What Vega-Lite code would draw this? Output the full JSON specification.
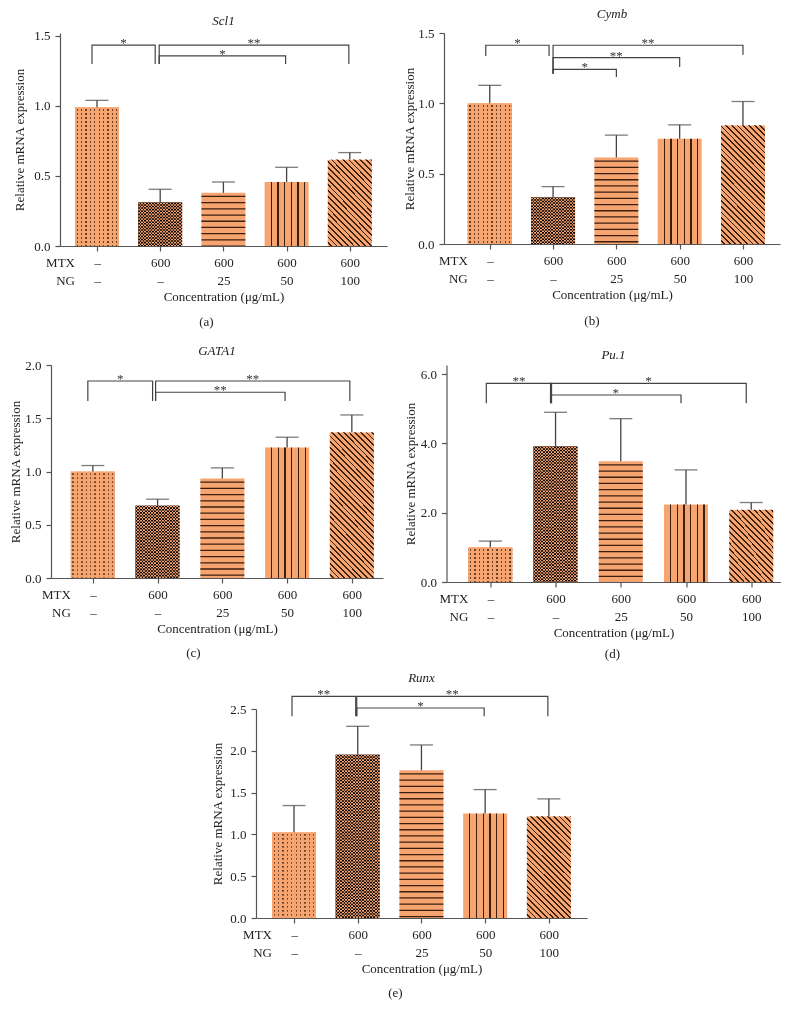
{
"$schema": "https://vega.github.io/schema/vega-lite/v6.json",
"padding": {"left": 7, "top": 8, "right": 5, "bottom": 5},
"background": "white",
"datasets": {
"a": [{"i":0,"v":0.99,"hi":1.04},{"i":1,"v":0.31,"hi":0.405},{"i":2,"v":0.38,"hi":0.457},{"i":3,"v":0.457,"hi":0.562},{"i":4,"v":0.617,"hi":0.667}],
"b": [{"i":0,"v":1.0,"hi":1.128},{"i":1,"v":0.33,"hi":0.408},{"i":2,"v":0.615,"hi":0.774},{"i":3,"v":0.748,"hi":0.847},{"i":4,"v":0.845,"hi":1.013}],
"c": [{"i":0,"v":1.0,"hi":1.056},{"i":1,"v":0.678,"hi":0.74},{"i":2,"v":0.934,"hi":1.034},{"i":3,"v":1.225,"hi":1.322},{"i":4,"v":1.369,"hi":1.531}],
"d": [{"i":0,"v":1.0,"hi":1.18},{"i":1,"v":3.906,"hi":4.896},{"i":2,"v":3.485,"hi":4.712},{"i":3,"v":2.235,"hi":3.234},{"i":4,"v":2.082,"hi":2.293}],
"e": [{"i":0,"v":1.027,"hi":1.345},{"i":1,"v":1.954,"hi":2.293},{"i":2,"v":1.767,"hi":2.07},{"i":3,"v":1.249,"hi":1.536},{"i":4,"v":1.218,"hi":1.425}],
"a_br": [{"b":"c0","i":0,"v":1.30,"o":1},{"b":"c0","i":0,"v":1.434,"o":2},{"b":"c0","i":1,"v":1.434,"o":3},{"b":"c0","i":1,"v":1.30,"o":4},
{"b":"b1","i":1,"v":1.30,"o":1},{"b":"b1","i":1,"v":1.434,"o":2},{"b":"b1","i":4,"v":1.434,"o":3},{"b":"b1","i":4,"v":1.30,"o":4},
{"b":"b2","i":1,"v":1.30,"o":1},{"b":"b2","i":1,"v":1.357,"o":2},{"b":"b2","i":3,"v":1.357,"o":3},{"b":"b2","i":3,"v":1.30,"o":4}],
"a_st": [{"b":"c0","i":0.5,"v":1.434,"t":"*"},{"b":"b1","i":2.5,"v":1.434,"t":"**"},{"b":"b2","i":2,"v":1.357,"t":"*"}],
"b_br": [{"b":"c0","i":0,"v":1.337,"o":1},{"b":"c0","i":0,"v":1.413,"o":2},{"b":"c0","i":1,"v":1.413,"o":3},{"b":"c0","i":1,"v":1.337,"o":4},
{"b":"b1","i":1,"v":1.21,"o":1},{"b":"b1","i":1,"v":1.413,"o":2},{"b":"b1","i":4,"v":1.413,"o":3},{"b":"b1","i":4,"v":1.346,"o":4},
{"b":"b2","i":1,"v":1.21,"o":1},{"b":"b2","i":1,"v":1.325,"o":2},{"b":"b2","i":3,"v":1.325,"o":3},{"b":"b2","i":3,"v":1.258,"o":4},
{"b":"b3","i":1,"v":1.21,"o":1},{"b":"b3","i":1,"v":1.241,"o":2},{"b":"b3","i":2,"v":1.241,"o":3},{"b":"b3","i":2,"v":1.187,"o":4}],
"b_st": [{"b":"c0","i":0.5,"v":1.413,"t":"*"},{"b":"b1","i":2.5,"v":1.413,"t":"**"},{"b":"b2","i":2,"v":1.325,"t":"**"},{"b":"b3","i":1.5,"v":1.241,"t":"*"}],
"c_br": [{"b":"c0","i":0,"v":1.662,"o":1},{"b":"c0","i":0,"v":1.85,"o":2},{"b":"c0","i":1,"v":1.85,"o":3},{"b":"c0","i":1,"v":1.662,"o":4},
{"b":"b1","i":1,"v":1.662,"o":1},{"b":"b1","i":1,"v":1.85,"o":2},{"b":"b1","i":4,"v":1.85,"o":3},{"b":"b1","i":4,"v":1.662,"o":4},
{"b":"b2","i":1,"v":1.662,"o":1},{"b":"b2","i":1,"v":1.744,"o":2},{"b":"b2","i":3,"v":1.744,"o":3},{"b":"b2","i":3,"v":1.662,"o":4}],
"c_st": [{"b":"c0","i":0.5,"v":1.85,"t":"*"},{"b":"b1","i":2.5,"v":1.85,"t":"**"},{"b":"b2","i":2,"v":1.744,"t":"**"}],
"d_br": [{"b":"c0","i":0,"v":5.156,"o":1},{"b":"c0","i":0,"v":5.73,"o":2},{"b":"c0","i":1,"v":5.73,"o":3},{"b":"c0","i":1,"v":5.156,"o":4},
{"b":"b1","i":1,"v":5.156,"o":1},{"b":"b1","i":1,"v":5.73,"o":2},{"b":"b1","i":4,"v":5.73,"o":3},{"b":"b1","i":4,"v":5.156,"o":4},
{"b":"b2","i":1,"v":5.156,"o":1},{"b":"b2","i":1,"v":5.394,"o":2},{"b":"b2","i":3,"v":5.394,"o":3},{"b":"b2","i":3,"v":5.156,"o":4}],
"d_st": [{"b":"c0","i":0.5,"v":5.73,"t":"**"},{"b":"b1","i":2.5,"v":5.73,"t":"*"},{"b":"b2","i":2,"v":5.394,"t":"*"}],
"e_br": [{"b":"c0","i":0,"v":2.413,"o":1},{"b":"c0","i":0,"v":2.651,"o":2},{"b":"c0","i":1,"v":2.651,"o":3},{"b":"c0","i":1,"v":2.413,"o":4},
{"b":"b1","i":1,"v":2.413,"o":1},{"b":"b1","i":1,"v":2.651,"o":2},{"b":"b1","i":4,"v":2.651,"o":3},{"b":"b1","i":4,"v":2.413,"o":4},
{"b":"b2","i":1,"v":2.413,"o":1},{"b":"b2","i":1,"v":2.512,"o":2},{"b":"b2","i":3,"v":2.512,"o":3},{"b":"b2","i":3,"v":2.413,"o":4}],
"e_st": [{"b":"c0","i":0.5,"v":2.651,"t":"**"},{"b":"b1","i":2.5,"v":2.651,"t":"**"},{"b":"b2","i":2,"v":2.512,"t":"*"}]
},
"spacing": 16,
"vconcat": [
{"spacing": 0, "hconcat": [
{"width": 5.5, "height": 10, "data": {"values": []}, "mark": {"type": "point", "opacity": 0}},
{"spacing": 16, "hconcat": [
{"title": {"text": "(a)", "orient": "bottom", "anchor": "middle", "offset": 12, "dx": 6},
 "vconcat": [{
 "width": 327, "height": 213,
 "title": {"text": "Scl1", "fontStyle": "italic", "anchor": "middle", "frame": "group", "offset": 2},
 "encoding": {
  "x": {"field": "i", "type": "quantitative", "scale": {"domain": [-0.506, 4.509], "nice": false, "zero": false},
   "axis": {"values": [0,1,2,3,4], "title": "Concentration (μg/mL)", "labelExpr": "datum.value == 0 ? ['MTX\u2002\u2002\u2002\u2013', 'NG\u2002\u2002\u2002\u2013'] : ['600', datum.value == 1 ? '\u2013' : datum.value == 2 ? '25' : datum.value == 3 ? '50' : '100']", "labelAlign": {"condition": {"test": "datum.value == 0", "value": "right"}, "value": "center"}, "labelOffset": {"condition": {"test": "datum.value == 0", "value": 3.5}, "value": 0}, "labelLineHeight": 18.5, "labelPadding": 5, "titlePadding": 3}},
  "y": {"field": "v", "type": "quantitative", "scale": {"domain": [0, 1.521], "nice": false},
   "axis": {"values": [0,0.5,1,1.5], "format": ".1f", "title": "Relative mRNA expression", "labelPadding": 5, "titlePadding": 7}}
 },
 "layer": [
  {"data":{"name":"a"},"mark":{"type":"bar","width":44,"orient":"vertical","fill":"#F7A570"}},
  {"data":{"name":"a"},"transform":[{"filter":"datum.i == 0"}],"mark":{"type":"rule","stroke":"#3D1F0E","strokeWidth":44,"strokeDash":[1.3,2.7],"strokeDashOffset":2},"encoding":{"y2":{"datum":0}}},
  {"data":{"name":"a"},"transform":[{"filter":"datum.i == 0"}],"mark":{"type":"bar","width":44,"orient":"vertical","style":"dotmask"}},
  {"data":{"name":"a"},"transform":[{"filter":"datum.i == 1"}],"mark":{"type":"bar","width":44,"orient":"vertical","style":"checker"}},
  {"data":{"name":"a"},"transform":[{"filter":"datum.i == 1"}],"mark":{"type":"rule","stroke":"#FDA770","strokeWidth":44,"strokeDash":[1.57,1.57],"blend":"difference"},"encoding":{"y2":{"datum":0}}},
  {"data":{"name":"a"},"transform":[{"filter":"datum.i == 2"}],"mark":{"type":"rule","stroke":"#3D1F0E","strokeWidth":44,"strokeDash":[1.3,4.9],"strokeDashOffset":3.2},"encoding":{"y2":{"datum":0}}},
  {"data":{"name":"a"},"transform":[{"filter":"datum.i == 3"}],"mark":{"type":"bar","width":44,"orient":"vertical","style":"vlines"}},
  {"data":{"name":"a"},"transform":[{"filter":"datum.i == 4"}],"mark":{"type":"bar","width":44,"orient":"vertical","style":"diag"},"encoding":{"y":{"datum":1.521,"type":"quantitative"},"y2":{"datum":0}}},
  {"data":{"name":"a"},"transform":[{"filter":"datum.i == 4"}],"mark":{"type":"bar","width":46,"orient":"vertical","fill":"white"},"encoding":{"y2":{"datum":1.521}}},
  {"data":{"name":"a"},"mark":{"type":"rule","color":"#444","strokeWidth":1.3},"encoding":{"y2":{"field":"hi"}}},
  {"data":{"name":"a"},"mark":{"type":"tick","orient":"horizontal","size":23,"thickness":1.3,"color":"#444"},"encoding":{"y":{"field":"hi","type":"quantitative"}}},
  {"data":{"name":"a_br"},"transform":[{"filter":"datum.b == 'c0'"}],"mark":{"type":"line","color":"#444","strokeWidth":1.2,"xOffset":-5},"encoding":{"detail":{"field":"b","type":"nominal"},"order":{"field":"o","type":"quantitative"}}},
  {"data":{"name":"a_br"},"transform":[{"filter":"datum.b != 'c0'"}],"mark":{"type":"line","color":"#444","strokeWidth":1.2,"xOffset":-1},"encoding":{"detail":{"field":"b","type":"nominal"},"order":{"field":"o","type":"quantitative"}}},
  {"data":{"name":"a_st"},"transform":[{"filter":"datum.b == 'c0'"}],"mark":{"type":"text","color":"#333","fontSize":13,"baseline":"alphabetic","dy":2,"xOffset":-5},"encoding":{"text":{"field":"t","type":"nominal"}}},
  {"data":{"name":"a_st"},"transform":[{"filter":"datum.b != 'c0'"}],"mark":{"type":"text","color":"#333","fontSize":13,"baseline":"alphabetic","dy":2,"xOffset":-1},"encoding":{"text":{"field":"t","type":"nominal"}}}
 ]}]},
{"title": {"text": "(b)", "orient": "bottom", "anchor": "middle", "offset": 13},
 "vconcat": [{
 "width": 336, "height": 211,
 "title": {"text": "Cymb", "fontStyle": "italic", "anchor": "middle", "frame": "group", "offset": 6},
 "encoding": {
  "x": {"field": "i", "type": "quantitative", "scale": {"domain": [-0.644, 4.506], "nice": false, "zero": false},
   "axis": {"values": [0,1,2,3,4], "title": "Concentration (μg/mL)", "labelExpr": "datum.value == 0 ? ['MTX\u2002\u2002\u2002\u2013', 'NG\u2002\u2002\u2002\u2013'] : ['600', datum.value == 1 ? '\u2013' : datum.value == 2 ? '25' : datum.value == 3 ? '50' : '100']", "labelAlign": {"condition": {"test": "datum.value == 0", "value": "right"}, "value": "center"}, "labelOffset": {"condition": {"test": "datum.value == 0", "value": 3.5}, "value": 0}, "labelLineHeight": 18.5, "labelPadding": 5, "titlePadding": 3}},
  "y": {"field": "v", "type": "quantitative", "scale": {"domain": [0, 1.5], "nice": false},
   "axis": {"values": [0,0.5,1,1.5], "format": ".1f", "title": "Relative mRNA expression", "labelPadding": 5, "titlePadding": 1}}
 },
 "layer": [
  {"data":{"name":"b"},"mark":{"type":"bar","width":44,"orient":"vertical","fill":"#F7A570"}},
  {"data":{"name":"b"},"transform":[{"filter":"datum.i == 0"}],"mark":{"type":"rule","stroke":"#3D1F0E","strokeWidth":44,"strokeDash":[1.3,2.7],"strokeDashOffset":2},"encoding":{"y2":{"datum":0}}},
  {"data":{"name":"b"},"transform":[{"filter":"datum.i == 0"}],"mark":{"type":"bar","width":44,"orient":"vertical","style":"dotmask"}},
  {"data":{"name":"b"},"transform":[{"filter":"datum.i == 1"}],"mark":{"type":"bar","width":44,"orient":"vertical","style":"checker"}},
  {"data":{"name":"b"},"transform":[{"filter":"datum.i == 1"}],"mark":{"type":"rule","stroke":"#FDA770","strokeWidth":44,"strokeDash":[1.57,1.57],"blend":"difference"},"encoding":{"y2":{"datum":0}}},
  {"data":{"name":"b"},"transform":[{"filter":"datum.i == 2"}],"mark":{"type":"rule","stroke":"#3D1F0E","strokeWidth":44,"strokeDash":[1.3,4.9],"strokeDashOffset":3.2},"encoding":{"y2":{"datum":0}}},
  {"data":{"name":"b"},"transform":[{"filter":"datum.i == 3"}],"mark":{"type":"bar","width":44,"orient":"vertical","style":"vlines"}},
  {"data":{"name":"b"},"transform":[{"filter":"datum.i == 4"}],"mark":{"type":"bar","width":44,"orient":"vertical","style":"diag"},"encoding":{"y":{"datum":1.5,"type":"quantitative"},"y2":{"datum":0}}},
  {"data":{"name":"b"},"transform":[{"filter":"datum.i == 4"}],"mark":{"type":"bar","width":46,"orient":"vertical","fill":"white"},"encoding":{"y2":{"datum":1.5}}},
  {"data":{"name":"b"},"mark":{"type":"rule","color":"#444","strokeWidth":1.3},"encoding":{"y2":{"field":"hi"}}},
  {"data":{"name":"b"},"mark":{"type":"tick","orient":"horizontal","size":23,"thickness":1.3,"color":"#444"},"encoding":{"y":{"field":"hi","type":"quantitative"}}},
  {"data":{"name":"b_br"},"transform":[{"filter":"datum.b == 'c0'"}],"mark":{"type":"line","color":"#444","strokeWidth":1.2,"xOffset":-4},"encoding":{"detail":{"field":"b","type":"nominal"},"order":{"field":"o","type":"quantitative"}}},
  {"data":{"name":"b_br"},"transform":[{"filter":"datum.b != 'c0'"}],"mark":{"type":"line","color":"#444","strokeWidth":1.2,"xOffset":0},"encoding":{"detail":{"field":"b","type":"nominal"},"order":{"field":"o","type":"quantitative"}}},
  {"data":{"name":"b_st"},"transform":[{"filter":"datum.b == 'c0'"}],"mark":{"type":"text","color":"#333","fontSize":13,"baseline":"alphabetic","dy":2,"xOffset":-4},"encoding":{"text":{"field":"t","type":"nominal"}}},
  {"data":{"name":"b_st"},"transform":[{"filter":"datum.b != 'c0'"}],"mark":{"type":"text","color":"#333","fontSize":13,"baseline":"alphabetic","dy":2,"xOffset":0},"encoding":{"text":{"field":"t","type":"nominal"}}}
 ]}]}
]}]},
{"spacing": 11, "vconcat": [
{"spacing": 0, "hconcat": [
{"width": 1.5, "height": 10, "data": {"values": []}, "mark": {"type": "point", "opacity": 0}},
{"spacing": 20.5, "hconcat": [
{"title": {"text": "(c)", "orient": "bottom", "anchor": "middle", "offset": 11, "dx": -3},
 "vconcat": [{
 "width": 332, "height": 213,
 "title": {"text": "GATA1", "fontStyle": "italic", "anchor": "middle", "frame": "group", "offset": 1},
 "encoding": {
  "x": {"field": "i", "type": "quantitative", "scale": {"domain": [-0.569, 4.404], "nice": false, "zero": false},
   "axis": {"values": [0,1,2,3,4], "title": "Concentration (μg/mL)", "labelExpr": "datum.value == 0 ? ['MTX\u2002\u2002\u2002\u2013', 'NG\u2002\u2002\u2002\u2013'] : ['600', datum.value == 1 ? '\u2013' : datum.value == 2 ? '25' : datum.value == 3 ? '50' : '100']", "labelAlign": {"condition": {"test": "datum.value == 0", "value": "right"}, "value": "center"}, "labelOffset": {"condition": {"test": "datum.value == 0", "value": 3.5}, "value": 0}, "labelLineHeight": 18.5, "labelPadding": 5, "titlePadding": 3}},
  "y": {"field": "v", "type": "quantitative", "scale": {"domain": [0, 2], "nice": false},
   "axis": {"values": [0,0.5,1,1.5,2], "format": ".1f", "title": "Relative mRNA expression", "labelPadding": 5, "titlePadding": 2}}
 },
 "layer": [
  {"data":{"name":"c"},"mark":{"type":"bar","width":44,"orient":"vertical","fill":"#F7A570"}},
  {"data":{"name":"c"},"transform":[{"filter":"datum.i == 0"}],"mark":{"type":"rule","stroke":"#3D1F0E","strokeWidth":44,"strokeDash":[1.3,2.7],"strokeDashOffset":2},"encoding":{"y2":{"datum":0}}},
  {"data":{"name":"c"},"transform":[{"filter":"datum.i == 0"}],"mark":{"type":"bar","width":44,"orient":"vertical","style":"dotmask"}},
  {"data":{"name":"c"},"transform":[{"filter":"datum.i == 1"}],"mark":{"type":"bar","width":44,"orient":"vertical","style":"checker"}},
  {"data":{"name":"c"},"transform":[{"filter":"datum.i == 1"}],"mark":{"type":"rule","stroke":"#FDA770","strokeWidth":44,"strokeDash":[1.57,1.57],"blend":"difference"},"encoding":{"y2":{"datum":0}}},
  {"data":{"name":"c"},"transform":[{"filter":"datum.i == 2"}],"mark":{"type":"rule","stroke":"#3D1F0E","strokeWidth":44,"strokeDash":[1.3,4.9],"strokeDashOffset":3.2},"encoding":{"y2":{"datum":0}}},
  {"data":{"name":"c"},"transform":[{"filter":"datum.i == 3"}],"mark":{"type":"bar","width":44,"orient":"vertical","style":"vlines"}},
  {"data":{"name":"c"},"transform":[{"filter":"datum.i == 4"}],"mark":{"type":"bar","width":44,"orient":"vertical","style":"diag"},"encoding":{"y":{"datum":2,"type":"quantitative"},"y2":{"datum":0}}},
  {"data":{"name":"c"},"transform":[{"filter":"datum.i == 4"}],"mark":{"type":"bar","width":46,"orient":"vertical","fill":"white"},"encoding":{"y2":{"datum":2}}},
  {"data":{"name":"c"},"mark":{"type":"rule","color":"#444","strokeWidth":1.3},"encoding":{"y2":{"field":"hi"}}},
  {"data":{"name":"c"},"mark":{"type":"tick","orient":"horizontal","size":23,"thickness":1.3,"color":"#444"},"encoding":{"y":{"field":"hi","type":"quantitative"}}},
  {"data":{"name":"c_br"},"transform":[{"filter":"datum.b == 'c0'"}],"mark":{"type":"line","color":"#444","strokeWidth":1.2,"xOffset":-5},"encoding":{"detail":{"field":"b","type":"nominal"},"order":{"field":"o","type":"quantitative"}}},
  {"data":{"name":"c_br"},"transform":[{"filter":"datum.b != 'c0'"}],"mark":{"type":"line","color":"#444","strokeWidth":1.2,"xOffset":-2},"encoding":{"detail":{"field":"b","type":"nominal"},"order":{"field":"o","type":"quantitative"}}},
  {"data":{"name":"c_st"},"transform":[{"filter":"datum.b == 'c0'"}],"mark":{"type":"text","color":"#333","fontSize":13,"baseline":"alphabetic","dy":2,"xOffset":-5},"encoding":{"text":{"field":"t","type":"nominal"}}},
  {"data":{"name":"c_st"},"transform":[{"filter":"datum.b != 'c0'"}],"mark":{"type":"text","color":"#333","fontSize":13,"baseline":"alphabetic","dy":2,"xOffset":-2},"encoding":{"text":{"field":"t","type":"nominal"}}}
 ]}]},
{"title": {"text": "(d)", "orient": "bottom", "anchor": "middle", "offset": 8, "dx": 20},
 "vconcat": [{
 "width": 334, "height": 217,
 "title": {"text": "Pu.1", "fontStyle": "italic", "anchor": "middle", "frame": "group", "offset": 3.5},
 "encoding": {
  "x": {"field": "i", "type": "quantitative", "scale": {"domain": [-0.595, 4.372], "nice": false, "zero": false},
   "axis": {"values": [0,1,2,3,4], "title": "Concentration (μg/mL)", "labelExpr": "datum.value == 0 ? ['MTX\u2002\u2002\u2002\u2013', 'NG\u2002\u2002\u2002\u2013'] : ['600', datum.value == 1 ? '\u2013' : datum.value == 2 ? '25' : datum.value == 3 ? '50' : '100']", "labelAlign": {"condition": {"test": "datum.value == 0", "value": "right"}, "value": "center"}, "labelOffset": {"condition": {"test": "datum.value == 0", "value": 3.5}, "value": 0}, "labelLineHeight": 18.5, "labelPadding": 5, "titlePadding": 3}},
  "y": {"field": "v", "type": "quantitative", "scale": {"domain": [0, 6.26], "nice": false},
   "axis": {"values": [0,2,4,6], "format": ".1f", "title": "Relative mRNA expression", "labelPadding": 5, "titlePadding": 3}}
 },
 "layer": [
  {"data":{"name":"d"},"mark":{"type":"bar","width":44,"orient":"vertical","fill":"#F7A570"}},
  {"data":{"name":"d"},"transform":[{"filter":"datum.i == 0"}],"mark":{"type":"rule","stroke":"#3D1F0E","strokeWidth":44,"strokeDash":[1.3,2.7],"strokeDashOffset":2},"encoding":{"y2":{"datum":0}}},
  {"data":{"name":"d"},"transform":[{"filter":"datum.i == 0"}],"mark":{"type":"bar","width":44,"orient":"vertical","style":"dotmask"}},
  {"data":{"name":"d"},"transform":[{"filter":"datum.i == 1"}],"mark":{"type":"bar","width":44,"orient":"vertical","style":"checker"}},
  {"data":{"name":"d"},"transform":[{"filter":"datum.i == 1"}],"mark":{"type":"rule","stroke":"#FDA770","strokeWidth":44,"strokeDash":[1.57,1.57],"blend":"difference"},"encoding":{"y2":{"datum":0}}},
  {"data":{"name":"d"},"transform":[{"filter":"datum.i == 2"}],"mark":{"type":"rule","stroke":"#3D1F0E","strokeWidth":44,"strokeDash":[1.3,4.9],"strokeDashOffset":3.2},"encoding":{"y2":{"datum":0}}},
  {"data":{"name":"d"},"transform":[{"filter":"datum.i == 3"}],"mark":{"type":"bar","width":44,"orient":"vertical","style":"vlines"}},
  {"data":{"name":"d"},"transform":[{"filter":"datum.i == 4"}],"mark":{"type":"bar","width":44,"orient":"vertical","style":"diag"},"encoding":{"y":{"datum":6.26,"type":"quantitative"},"y2":{"datum":0}}},
  {"data":{"name":"d"},"transform":[{"filter":"datum.i == 4"}],"mark":{"type":"bar","width":46,"orient":"vertical","fill":"white"},"encoding":{"y2":{"datum":6.26}}},
  {"data":{"name":"d"},"mark":{"type":"rule","color":"#444","strokeWidth":1.3},"encoding":{"y2":{"field":"hi"}}},
  {"data":{"name":"d"},"mark":{"type":"tick","orient":"horizontal","size":23,"thickness":1.3,"color":"#444"},"encoding":{"y":{"field":"hi","type":"quantitative"}}},
  {"data":{"name":"d_br"},"transform":[{"filter":"datum.b == 'c0'"}],"mark":{"type":"line","color":"#444","strokeWidth":1.2,"xOffset":-4},"encoding":{"detail":{"field":"b","type":"nominal"},"order":{"field":"o","type":"quantitative"}}},
  {"data":{"name":"d_br"},"transform":[{"filter":"datum.b != 'c0'"}],"mark":{"type":"line","color":"#444","strokeWidth":1.2,"xOffset":-5},"encoding":{"detail":{"field":"b","type":"nominal"},"order":{"field":"o","type":"quantitative"}}},
  {"data":{"name":"d_st"},"transform":[{"filter":"datum.b == 'c0'"}],"mark":{"type":"text","color":"#333","fontSize":13,"baseline":"alphabetic","dy":2,"xOffset":-4},"encoding":{"text":{"field":"t","type":"nominal"}}},
  {"data":{"name":"d_st"},"transform":[{"filter":"datum.b != 'c0'"}],"mark":{"type":"text","color":"#333","fontSize":13,"baseline":"alphabetic","dy":2,"xOffset":-5},"encoding":{"text":{"field":"t","type":"nominal"}}}
 ]}]}
]}]},
{"spacing": 0, "hconcat": [
{"width": 203.5, "height": 10, "data": {"values": []}, "mark": {"type": "point", "opacity": 0}},
{"title": {"text": "(e)", "orient": "bottom", "anchor": "middle", "offset": 11, "dx": -4},
 "vconcat": [{
 "width": 331, "height": 209,
 "title": {"text": "Runx", "fontStyle": "italic", "anchor": "middle", "frame": "group", "offset": 3},
 "encoding": {
  "x": {"field": "i", "type": "quantitative", "scale": {"domain": [-0.518, 4.52], "nice": false, "zero": false},
   "axis": {"values": [0,1,2,3,4], "title": "Concentration (μg/mL)", "labelExpr": "datum.value == 0 ? ['MTX\u2002\u2002\u2002\u2013', 'NG\u2002\u2002\u2002\u2013'] : ['600', datum.value == 1 ? '\u2013' : datum.value == 2 ? '25' : datum.value == 3 ? '50' : '100']", "labelAlign": {"condition": {"test": "datum.value == 0", "value": "right"}, "value": "center"}, "labelOffset": {"condition": {"test": "datum.value == 0", "value": 3.5}, "value": 0}, "labelLineHeight": 18.5, "labelPadding": 5, "titlePadding": 3}},
  "y": {"field": "v", "type": "quantitative", "scale": {"domain": [0, 2.5], "nice": false},
   "axis": {"values": [0,0.5,1,1.5,2,2.5], "format": ".1f", "title": "Relative mRNA expression", "labelPadding": 5, "titlePadding": 5}}
 },
 "layer": [
  {"data":{"name":"e"},"mark":{"type":"bar","width":44,"orient":"vertical","fill":"#F7A570"}},
  {"data":{"name":"e"},"transform":[{"filter":"datum.i == 0"}],"mark":{"type":"rule","stroke":"#3D1F0E","strokeWidth":44,"strokeDash":[1.3,2.7],"strokeDashOffset":2},"encoding":{"y2":{"datum":0}}},
  {"data":{"name":"e"},"transform":[{"filter":"datum.i == 0"}],"mark":{"type":"bar","width":44,"orient":"vertical","style":"dotmask"}},
  {"data":{"name":"e"},"transform":[{"filter":"datum.i == 1"}],"mark":{"type":"bar","width":44,"orient":"vertical","style":"checker"}},
  {"data":{"name":"e"},"transform":[{"filter":"datum.i == 1"}],"mark":{"type":"rule","stroke":"#FDA770","strokeWidth":44,"strokeDash":[1.57,1.57],"blend":"difference"},"encoding":{"y2":{"datum":0}}},
  {"data":{"name":"e"},"transform":[{"filter":"datum.i == 2"}],"mark":{"type":"rule","stroke":"#3D1F0E","strokeWidth":44,"strokeDash":[1.3,4.9],"strokeDashOffset":3.2},"encoding":{"y2":{"datum":0}}},
  {"data":{"name":"e"},"transform":[{"filter":"datum.i == 3"}],"mark":{"type":"bar","width":44,"orient":"vertical","style":"vlines"}},
  {"data":{"name":"e"},"transform":[{"filter":"datum.i == 4"}],"mark":{"type":"bar","width":44,"orient":"vertical","style":"diag"},"encoding":{"y":{"datum":2.5,"type":"quantitative"},"y2":{"datum":0}}},
  {"data":{"name":"e"},"transform":[{"filter":"datum.i == 4"}],"mark":{"type":"bar","width":46,"orient":"vertical","fill":"white"},"encoding":{"y2":{"datum":2.5}}},
  {"data":{"name":"e"},"mark":{"type":"rule","color":"#444","strokeWidth":1.3},"encoding":{"y2":{"field":"hi"}}},
  {"data":{"name":"e"},"mark":{"type":"tick","orient":"horizontal","size":23,"thickness":1.3,"color":"#444"},"encoding":{"y":{"field":"hi","type":"quantitative"}}},
  {"data":{"name":"e_br"},"transform":[{"filter":"datum.b == 'c0'"}],"mark":{"type":"line","color":"#444","strokeWidth":1.2,"xOffset":-2},"encoding":{"detail":{"field":"b","type":"nominal"},"order":{"field":"o","type":"quantitative"}}},
  {"data":{"name":"e_br"},"transform":[{"filter":"datum.b != 'c0'"}],"mark":{"type":"line","color":"#444","strokeWidth":1.2,"xOffset":-1},"encoding":{"detail":{"field":"b","type":"nominal"},"order":{"field":"o","type":"quantitative"}}},
  {"data":{"name":"e_st"},"transform":[{"filter":"datum.b == 'c0'"}],"mark":{"type":"text","color":"#333","fontSize":13,"baseline":"alphabetic","dy":2,"xOffset":-2},"encoding":{"text":{"field":"t","type":"nominal"}}},
  {"data":{"name":"e_st"},"transform":[{"filter":"datum.b != 'c0'"}],"mark":{"type":"text","color":"#333","fontSize":13,"baseline":"alphabetic","dy":2,"xOffset":-1},"encoding":{"text":{"field":"t","type":"nominal"}}}
 ]}]}
]}
]}
],
"config": {
 "font": "Liberation Serif",
 "view": {"stroke": null},
 "axis": {"grid": false, "domainColor": "#555", "domainWidth": 1.2, "tickColor": "#555", "tickWidth": 1.2, "tickSize": 5, "labelFontSize": 13, "labelColor": "#222", "titleFontSize": 13, "titleColor": "#222", "titleFontWeight": "normal", "labelFlush": false, "labelOverlap": false},
 "title": {"fontSize": 13, "fontWeight": "normal", "color": "#222"},
 "style": {
  "dotmask": {"color": {"gradient": "linear", "x1": 0, "y1": 0, "x2": 1, "y2": 0, "stops": [
   {"offset":0.035,"color":"#F7A570"},{"offset":0.035,"color":"#0000"},{"offset":0.065,"color":"#0000"},{"offset":0.065,"color":"#F7A570"},
   {"offset":0.135,"color":"#F7A570"},{"offset":0.135,"color":"#0000"},{"offset":0.165,"color":"#0000"},{"offset":0.165,"color":"#F7A570"},
   {"offset":0.235,"color":"#F7A570"},{"offset":0.235,"color":"#0000"},{"offset":0.265,"color":"#0000"},{"offset":0.265,"color":"#F7A570"},
   {"offset":0.335,"color":"#F7A570"},{"offset":0.335,"color":"#0000"},{"offset":0.365,"color":"#0000"},{"offset":0.365,"color":"#F7A570"},
   {"offset":0.435,"color":"#F7A570"},{"offset":0.435,"color":"#0000"},{"offset":0.465,"color":"#0000"},{"offset":0.465,"color":"#F7A570"},
   {"offset":0.535,"color":"#F7A570"},{"offset":0.535,"color":"#0000"},{"offset":0.565,"color":"#0000"},{"offset":0.565,"color":"#F7A570"},
   {"offset":0.635,"color":"#F7A570"},{"offset":0.635,"color":"#0000"},{"offset":0.665,"color":"#0000"},{"offset":0.665,"color":"#F7A570"},
   {"offset":0.735,"color":"#F7A570"},{"offset":0.735,"color":"#0000"},{"offset":0.765,"color":"#0000"},{"offset":0.765,"color":"#F7A570"},
   {"offset":0.835,"color":"#F7A570"},{"offset":0.835,"color":"#0000"},{"offset":0.865,"color":"#0000"},{"offset":0.865,"color":"#F7A570"},
   {"offset":0.935,"color":"#F7A570"},{"offset":0.935,"color":"#0000"},{"offset":0.965,"color":"#0000"},{"offset":0.965,"color":"#F7A570"}]}},
  "checker": {"color": {"gradient": "linear", "x1": 0, "y1": 0, "x2": 1, "y2": 0, "stops": [
   {"offset":0.0357,"color":"#060200"},{"offset":0.0357,"color":"#F7A570"},{"offset":0.0714,"color":"#F7A570"},{"offset":0.0714,"color":"#060200"},
   {"offset":0.1071,"color":"#060200"},{"offset":0.1071,"color":"#F7A570"},{"offset":0.1429,"color":"#F7A570"},{"offset":0.1429,"color":"#060200"},
   {"offset":0.1786,"color":"#060200"},{"offset":0.1786,"color":"#F7A570"},{"offset":0.2143,"color":"#F7A570"},{"offset":0.2143,"color":"#060200"},
   {"offset":0.25,"color":"#060200"},{"offset":0.25,"color":"#F7A570"},{"offset":0.2857,"color":"#F7A570"},{"offset":0.2857,"color":"#060200"},
   {"offset":0.3214,"color":"#060200"},{"offset":0.3214,"color":"#F7A570"},{"offset":0.3571,"color":"#F7A570"},{"offset":0.3571,"color":"#060200"},
   {"offset":0.3929,"color":"#060200"},{"offset":0.3929,"color":"#F7A570"},{"offset":0.4286,"color":"#F7A570"},{"offset":0.4286,"color":"#060200"},
   {"offset":0.4643,"color":"#060200"},{"offset":0.4643,"color":"#F7A570"},{"offset":0.5,"color":"#F7A570"},{"offset":0.5,"color":"#060200"},
   {"offset":0.5357,"color":"#060200"},{"offset":0.5357,"color":"#F7A570"},{"offset":0.5714,"color":"#F7A570"},{"offset":0.5714,"color":"#060200"},
   {"offset":0.6071,"color":"#060200"},{"offset":0.6071,"color":"#F7A570"},{"offset":0.6429,"color":"#F7A570"},{"offset":0.6429,"color":"#060200"},
   {"offset":0.6786,"color":"#060200"},{"offset":0.6786,"color":"#F7A570"},{"offset":0.7143,"color":"#F7A570"},{"offset":0.7143,"color":"#060200"},
   {"offset":0.75,"color":"#060200"},{"offset":0.75,"color":"#F7A570"},{"offset":0.7857,"color":"#F7A570"},{"offset":0.7857,"color":"#060200"},
   {"offset":0.8214,"color":"#060200"},{"offset":0.8214,"color":"#F7A570"},{"offset":0.8571,"color":"#F7A570"},{"offset":0.8571,"color":"#060200"},
   {"offset":0.8929,"color":"#060200"},{"offset":0.8929,"color":"#F7A570"},{"offset":0.9286,"color":"#F7A570"},{"offset":0.9286,"color":"#060200"},
   {"offset":0.9643,"color":"#060200"},{"offset":0.9643,"color":"#F7A570"}]}},
  "vlines": {"color": {"gradient": "linear", "x1": 0, "y1": 0, "x2": 1, "y2": 0, "stops": [
   {"offset":0.136,"color":"#0000"},{"offset":0.136,"color":"#3D1F0E"},{"offset":0.166,"color":"#3D1F0E"},{"offset":0.166,"color":"#0000"},
   {"offset":0.288,"color":"#0000"},{"offset":0.288,"color":"#3D1F0E"},{"offset":0.318,"color":"#3D1F0E"},{"offset":0.318,"color":"#0000"},
   {"offset":0.44,"color":"#0000"},{"offset":0.44,"color":"#3D1F0E"},{"offset":0.47,"color":"#3D1F0E"},{"offset":0.47,"color":"#0000"},
   {"offset":0.592,"color":"#0000"},{"offset":0.592,"color":"#3D1F0E"},{"offset":0.622,"color":"#3D1F0E"},{"offset":0.622,"color":"#0000"},
   {"offset":0.744,"color":"#0000"},{"offset":0.744,"color":"#3D1F0E"},{"offset":0.774,"color":"#3D1F0E"},{"offset":0.774,"color":"#0000"},
   {"offset":0.896,"color":"#0000"},{"offset":0.896,"color":"#3D1F0E"},{"offset":0.926,"color":"#3D1F0E"},{"offset":0.926,"color":"#0000"}]}},
  "diag": {"color": {"gradient": "linear", "x1": 0, "y1": 1, "x2": 0.24277, "y2": -0.15867, "stops": [
   {"offset":0.0100,"color":"#0000"},{"offset":0.0100,"color":"#3D1F0E"},{"offset":0.0171,"color":"#3D1F0E"},{"offset":0.0171,"color":"#0000"},
   {"offset":0.0324,"color":"#0000"},{"offset":0.0324,"color":"#3D1F0E"},{"offset":0.0395,"color":"#3D1F0E"},{"offset":0.0395,"color":"#0000"},
   {"offset":0.0549,"color":"#0000"},{"offset":0.0549,"color":"#3D1F0E"},{"offset":0.0620,"color":"#3D1F0E"},{"offset":0.0620,"color":"#0000"},
   {"offset":0.0773,"color":"#0000"},{"offset":0.0773,"color":"#3D1F0E"},{"offset":0.0844,"color":"#3D1F0E"},{"offset":0.0844,"color":"#0000"},
   {"offset":0.0998,"color":"#0000"},{"offset":0.0998,"color":"#3D1F0E"},{"offset":0.1069,"color":"#3D1F0E"},{"offset":0.1069,"color":"#0000"},
   {"offset":0.1222,"color":"#0000"},{"offset":0.1222,"color":"#3D1F0E"},{"offset":0.1293,"color":"#3D1F0E"},{"offset":0.1293,"color":"#0000"},
   {"offset":0.1446,"color":"#0000"},{"offset":0.1446,"color":"#3D1F0E"},{"offset":0.1517,"color":"#3D1F0E"},{"offset":0.1517,"color":"#0000"},
   {"offset":0.1671,"color":"#0000"},{"offset":0.1671,"color":"#3D1F0E"},{"offset":0.1742,"color":"#3D1F0E"},{"offset":0.1742,"color":"#0000"},
   {"offset":0.1895,"color":"#0000"},{"offset":0.1895,"color":"#3D1F0E"},{"offset":0.1966,"color":"#3D1F0E"},{"offset":0.1966,"color":"#0000"},
   {"offset":0.2120,"color":"#0000"},{"offset":0.2120,"color":"#3D1F0E"},{"offset":0.2191,"color":"#3D1F0E"},{"offset":0.2191,"color":"#0000"},
   {"offset":0.2344,"color":"#0000"},{"offset":0.2344,"color":"#3D1F0E"},{"offset":0.2415,"color":"#3D1F0E"},{"offset":0.2415,"color":"#0000"},
   {"offset":0.2568,"color":"#0000"},{"offset":0.2568,"color":"#3D1F0E"},{"offset":0.2639,"color":"#3D1F0E"},{"offset":0.2639,"color":"#0000"},
   {"offset":0.2793,"color":"#0000"},{"offset":0.2793,"color":"#3D1F0E"},{"offset":0.2864,"color":"#3D1F0E"},{"offset":0.2864,"color":"#0000"},
   {"offset":0.3017,"color":"#0000"},{"offset":0.3017,"color":"#3D1F0E"},{"offset":0.3088,"color":"#3D1F0E"},{"offset":0.3088,"color":"#0000"},
   {"offset":0.3242,"color":"#0000"},{"offset":0.3242,"color":"#3D1F0E"},{"offset":0.3313,"color":"#3D1F0E"},{"offset":0.3313,"color":"#0000"},
   {"offset":0.3466,"color":"#0000"},{"offset":0.3466,"color":"#3D1F0E"},{"offset":0.3537,"color":"#3D1F0E"},{"offset":0.3537,"color":"#0000"},
   {"offset":0.3690,"color":"#0000"},{"offset":0.3690,"color":"#3D1F0E"},{"offset":0.3761,"color":"#3D1F0E"},{"offset":0.3761,"color":"#0000"},
   {"offset":0.3915,"color":"#0000"},{"offset":0.3915,"color":"#3D1F0E"},{"offset":0.3986,"color":"#3D1F0E"},{"offset":0.3986,"color":"#0000"},
   {"offset":0.4139,"color":"#0000"},{"offset":0.4139,"color":"#3D1F0E"},{"offset":0.4210,"color":"#3D1F0E"},{"offset":0.4210,"color":"#0000"},
   {"offset":0.4364,"color":"#0000"},{"offset":0.4364,"color":"#3D1F0E"},{"offset":0.4435,"color":"#3D1F0E"},{"offset":0.4435,"color":"#0000"},
   {"offset":0.4588,"color":"#0000"},{"offset":0.4588,"color":"#3D1F0E"},{"offset":0.4659,"color":"#3D1F0E"},{"offset":0.4659,"color":"#0000"},
   {"offset":0.4812,"color":"#0000"},{"offset":0.4812,"color":"#3D1F0E"},{"offset":0.4883,"color":"#3D1F0E"},{"offset":0.4883,"color":"#0000"},
   {"offset":0.5037,"color":"#0000"},{"offset":0.5037,"color":"#3D1F0E"},{"offset":0.5108,"color":"#3D1F0E"},{"offset":0.5108,"color":"#0000"},
   {"offset":0.5261,"color":"#0000"},{"offset":0.5261,"color":"#3D1F0E"},{"offset":0.5332,"color":"#3D1F0E"},{"offset":0.5332,"color":"#0000"},
   {"offset":0.5486,"color":"#0000"},{"offset":0.5486,"color":"#3D1F0E"},{"offset":0.5557,"color":"#3D1F0E"},{"offset":0.5557,"color":"#0000"},
   {"offset":0.5710,"color":"#0000"},{"offset":0.5710,"color":"#3D1F0E"},{"offset":0.5781,"color":"#3D1F0E"},{"offset":0.5781,"color":"#0000"},
   {"offset":0.5934,"color":"#0000"},{"offset":0.5934,"color":"#3D1F0E"},{"offset":0.6005,"color":"#3D1F0E"},{"offset":0.6005,"color":"#0000"},
   {"offset":0.6159,"color":"#0000"},{"offset":0.6159,"color":"#3D1F0E"},{"offset":0.6230,"color":"#3D1F0E"},{"offset":0.6230,"color":"#0000"},
   {"offset":0.6383,"color":"#0000"},{"offset":0.6383,"color":"#3D1F0E"},{"offset":0.6454,"color":"#3D1F0E"},{"offset":0.6454,"color":"#0000"},
   {"offset":0.6608,"color":"#0000"},{"offset":0.6608,"color":"#3D1F0E"},{"offset":0.6679,"color":"#3D1F0E"},{"offset":0.6679,"color":"#0000"},
   {"offset":0.6832,"color":"#0000"},{"offset":0.6832,"color":"#3D1F0E"},{"offset":0.6903,"color":"#3D1F0E"},{"offset":0.6903,"color":"#0000"},
   {"offset":0.7056,"color":"#0000"},{"offset":0.7056,"color":"#3D1F0E"},{"offset":0.7127,"color":"#3D1F0E"},{"offset":0.7127,"color":"#0000"},
   {"offset":0.7281,"color":"#0000"},{"offset":0.7281,"color":"#3D1F0E"},{"offset":0.7352,"color":"#3D1F0E"},{"offset":0.7352,"color":"#0000"},
   {"offset":0.7505,"color":"#0000"},{"offset":0.7505,"color":"#3D1F0E"},{"offset":0.7576,"color":"#3D1F0E"},{"offset":0.7576,"color":"#0000"}]}}
 }
}
}
